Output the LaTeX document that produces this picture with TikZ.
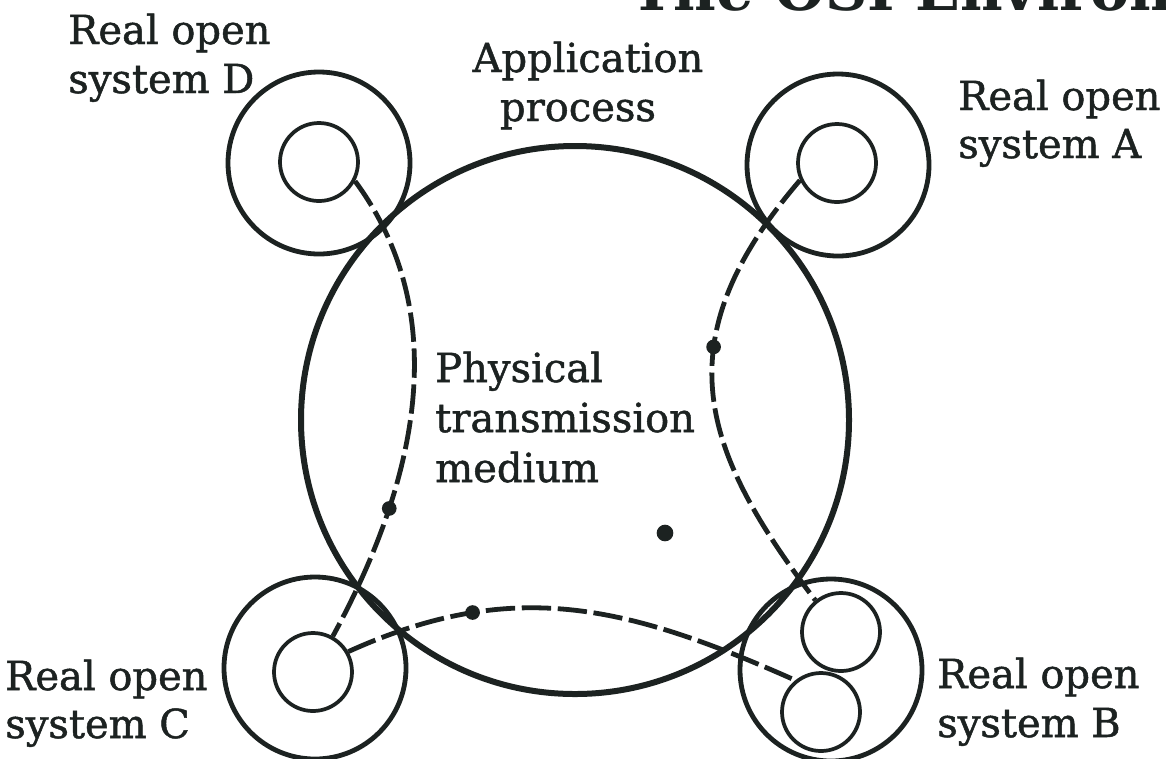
\documentclass[tikz,border=0pt]{standalone}
\usepackage{fontspec}
\setmainfont{DejaVu Serif}
\newfontfamily\lblfont{DejaVu Serif}[FakeBold=1.2]
\definecolor{ink}{RGB}{28,34,33}
\begin{document}
\begin{tikzpicture}[x=0.75pt,y=-0.75pt,
  bigc/.style={circle, draw=ink, line width=4.5pt, minimum size=411pt, inner sep=0pt},
  outerc/.style={circle, draw=ink, line width=3.6pt, minimum size=136.5pt, inner sep=0pt},
  innerc/.style={circle, draw=ink, line width=2.8pt, minimum size=58.5pt, inner sep=0pt},
  link/.style={draw=ink, line width=3.6pt, dash pattern=on 22pt off 5pt},
  dotm/.style={circle, fill=ink, inner sep=0pt, minimum size=11pt, solid},
  lbl/.style={font=\lblfont\fontsize{30}{37}\selectfont, text=ink, inner sep=0pt, anchor=base west},
  lblc/.style={lbl, anchor=base}]
\useasboundingbox (0,0) rectangle (1166,758);
\clip (0,0) rectangle (1166,758);
\fill[white] (0,0) rectangle (1166,758);
% title (cut off at top edge, as in the reference)
\node[anchor=base west, inner sep=0pt, text=ink, font=\bfseries\fontsize{44}{44}\selectfont] (title) at (630,10) {The OSI Environ};
% circles
\node[bigc] (M) at (575,420) {};
\node[outerc] (Do) at (319,163) {};
\node[innerc] (Di) at (319,162) {};
\node[outerc] (Ao) at (838,165) {};
\node[innerc] (Ai) at (837,163) {};
\node[outerc] (Co) at (315,668) {};
\node[innerc] (Ci) at (313,672) {};
\node[outerc] (Bo) at (831,670) {};
\node[innerc] (Bt) at (841,632) {};
\node[innerc] (Bb) at (821,712) {};
% dashed connections
\draw[link] (Di.-28) .. controls (457,319) and (413,489) .. (Ci.61) node[pos=0.72, dotm] (d1) {};
\draw[link] (Ai.205) .. controls (661,342) and (702,451) .. (Bt.129) node[pos=0.38, dotm] (d2) {};
\draw[link] (Ci.30) .. controls (513,577) and (626,605) .. (Bb.129) node[pos=0.27, dotm] (d3) {};
\node[dotm, minimum size=12.5pt] (d4) at (665,533) {};
% labels
\node[lbl] (Dl1) at (68,44) {Real open};
\node[lbl] (Dl2) at (68,93) {system D};
\node[lblc] (Pl1) at (588,72) {Application};
\node[lblc] (Pl2) at (578,121) {process};
\node[lbl] (Al1) at (958,110) {Real open};
\node[lbl] (Al2) at (958,158) {system A};
\node[lbl] (Cl1) at (5,690) {Real open};
\node[lbl] (Cl2) at (5,738) {system C};
\node[lbl] (Bl1) at (937,688) {Real open};
\node[lbl] (Bl2) at (937,737) {system B};
\node[lbl] (Ml1) at (435,382) {Physical};
\node[lbl] (Ml2) at (435,432) {transmission};
\node[lbl] (Ml3) at (435,482) {medium};
\end{tikzpicture}
\end{document}
